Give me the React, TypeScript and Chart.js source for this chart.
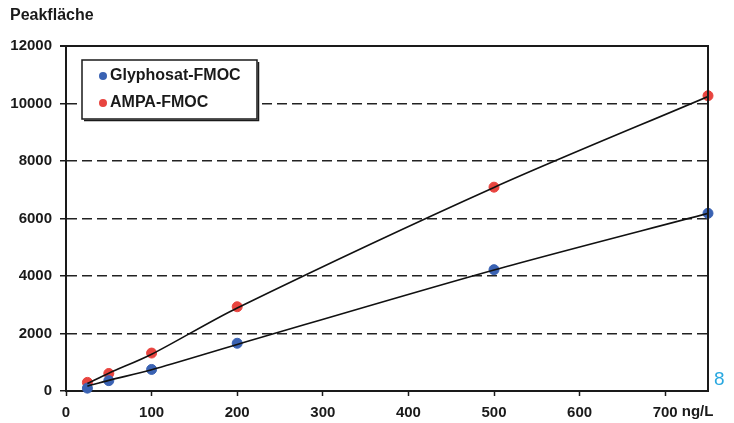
import React, { useEffect, useRef } from "react";
import { Chart, registerables } from "chart.js";

Chart.register(...registerables);

const concentrations = [25, 50, 100, 200, 500, 750];
const glyphosatValues = [100, 360, 750, 1660, 4220, 6180];
const ampaValues = [300, 610, 1320, 2930, 7090, 10270];
const glyphosatFit = [170, 370, 740, 1620, 4210, 6180];
const ampaFit = [260, 620, 1280, 2890, 7080, 10240];
const xTicks = [0, 100, 200, 300, 400, 500, 600, 700];
const yTicks = [0, 2000, 4000, 6000, 8000, 10000, 12000];
const seriesLabels = ["Glyphosat-FMOC", "AMPA-FMOC"];
const yTitle = "Peakfläche";
const xUnit = "ng/L";
const pageNumber = "8";

const FONT = "'Liberation Sans', Arial, sans-serif";
const BLUE = "#3a62b3";
const RED = "#e8443f";
const INK = "#1a1a1a";

const toPoints = (xs: number[], ys: number[]) => xs.map((x, i) => ({ x, y: ys[i] }));

const decorPlugin = {
  id: "decor",
  afterDraw(chart: any) {
    const { ctx, chartArea, scales } = chart;
    const xs = scales.x;
    const ys = scales.y;
    ctx.save();
    // frame: top and right
    ctx.strokeStyle = INK;
    ctx.lineWidth = 2;
    ctx.beginPath();
    ctx.moveTo(chartArea.left - 6, ys.getPixelForValue(yTicks[yTicks.length - 1]));
    ctx.lineTo(chartArea.right, ys.getPixelForValue(yTicks[yTicks.length - 1]));
    ctx.lineTo(chartArea.right, chartArea.bottom);
    ctx.stroke();

    // y title
    ctx.fillStyle = INK;
    ctx.font = `bold 16px ${FONT}`;
    ctx.textAlign = "left";
    ctx.textBaseline = "middle";
    ctx.fillText(yTitle, 10, 16);

    // x unit after last tick label
    ctx.font = `bold 15px ${FONT}`;
    const lastTick = xTicks[xTicks.length - 1];
    const lx = xs.getPixelForValue(lastTick);
    const w = ctx.measureText(String(lastTick)).width;
    ctx.fillText(xUnit, lx + w / 2 + 4, 412);

    // page number
    ctx.fillStyle = "#29a8e0";
    ctx.font = `19px ${FONT}`;
    ctx.fillText(pageNumber, 714, 380);

    // legend box
    const bx = 82, by = 60, bw = 175, bh = 59;
    ctx.fillStyle = "#ffffff";
    ctx.fillRect(bx, by, bw, bh);
    ctx.strokeStyle = INK;
    ctx.lineWidth = 1.5;
    ctx.strokeRect(bx, by, bw, bh);
    ctx.beginPath();
    ctx.moveTo(bx + 2, by + bh + 1.5);
    ctx.lineTo(bx + bw + 1.5, by + bh + 1.5);
    ctx.lineTo(bx + bw + 1.5, by + 2);
    ctx.stroke();

    const ds = chart.data.datasets.filter((d: any) => d.showInLegend);
    ds.forEach((d: any, i: number) => {
      const cy = 76 + i * 27;
      ctx.fillStyle = d.backgroundColor;
      ctx.beginPath();
      ctx.arc(103, cy, 4, 0, Math.PI * 2);
      ctx.fill();
      ctx.fillStyle = INK;
      ctx.font = `bold 16px ${FONT}`;
      ctx.textAlign = "left";
      ctx.textBaseline = "middle";
      ctx.fillText(d.label, 110, cy);
    });
    ctx.restore();
  },
};

export default function App() {
  const ref = useRef<HTMLCanvasElement | null>(null);
  useEffect(() => {
    document.body.style.margin = "0";
    const canvas = ref.current!;
    const chart = new Chart(canvas, {
      type: "scatter",
      data: {
        datasets: [
          {
            label: seriesLabels[0] + " fit",
            type: "line",
            data: toPoints(concentrations, glyphosatFit),
            borderColor: "#111",
            borderWidth: 1.6,
            pointRadius: 0,
            tension: 0.3,
            order: 1,
          } as any,
          {
            label: seriesLabels[1] + " fit",
            type: "line",
            data: toPoints(concentrations, ampaFit),
            borderColor: "#111",
            borderWidth: 1.6,
            pointRadius: 0,
            tension: 0.3,
            order: 1,
          } as any,
          {
            label: seriesLabels[0],
            data: toPoints(concentrations, glyphosatValues),
            backgroundColor: BLUE,
            borderColor: BLUE,
            pointRadius: 5,
            showInLegend: true,
            clip: false,
            order: 2,
          } as any,
          {
            label: seriesLabels[1],
            data: toPoints(concentrations, ampaValues),
            backgroundColor: RED,
            borderColor: RED,
            pointRadius: 5,
            showInLegend: true,
            clip: false,
            order: 2,
          } as any,
        ],
      },
      options: {
        animation: false,
        responsive: false,
        maintainAspectRatio: false,
        layout: { padding: { left: 0, right: 26, top: 46, bottom: 0 } },
        plugins: { legend: { display: false }, tooltip: { enabled: false }, title: { display: false } },
        scales: {
          x: {
            type: "linear",
            min: 0,
            max: 750,
            afterFit: (s: any) => { s.height = 32; },
            afterBuildTicks: (s: any) => { s.ticks = xTicks.map((v) => ({ value: v })); },
            ticks: {
              color: INK,
              font: { family: FONT, size: 15, weight: "bold" },
              padding: 8,
              maxRotation: 0,
              autoSkip: false,
              callback: (v: any) => String(v),
            },
            grid: {
              drawOnChartArea: false,
              drawTicks: true,
              tickLength: 5,
              tickColor: INK,
              tickWidth: 1.5,
            },
            border: { display: true, color: INK, width: 2 },
          },
          y: {
            type: "linear",
            min: 0,
            max: 12000,
            afterFit: (s: any) => { s.width = 66; },
            afterBuildTicks: (s: any) => { s.ticks = yTicks.map((v) => ({ value: v })); },
            ticks: {
              color: INK,
              font: { family: FONT, size: 15, weight: "bold" },
              padding: 8,
              autoSkip: false,
              callback: (v: any) => String(v),
            },
            grid: {
              drawOnChartArea: true,
              drawTicks: true,
              tickLength: 6,
              tickColor: INK,
              tickWidth: 1.5,
              lineWidth: 1.5,
              color: (c: any) =>
                c.tick && c.tick.value > 0 && c.tick.value < 12000 ? "#222" : "rgba(0,0,0,0)",
            },
            border: { display: true, color: INK, width: 2, dash: [10, 5] },
          },
        },
      },
      plugins: [decorPlugin],
    });
    return () => chart.destroy();
  }, []);
  return (
    <div style={{ width: 734, height: 423, background: "#fff" }}>
      <canvas ref={ref} width={734} height={423} style={{ display: "block" }} />
    </div>
  );
}
